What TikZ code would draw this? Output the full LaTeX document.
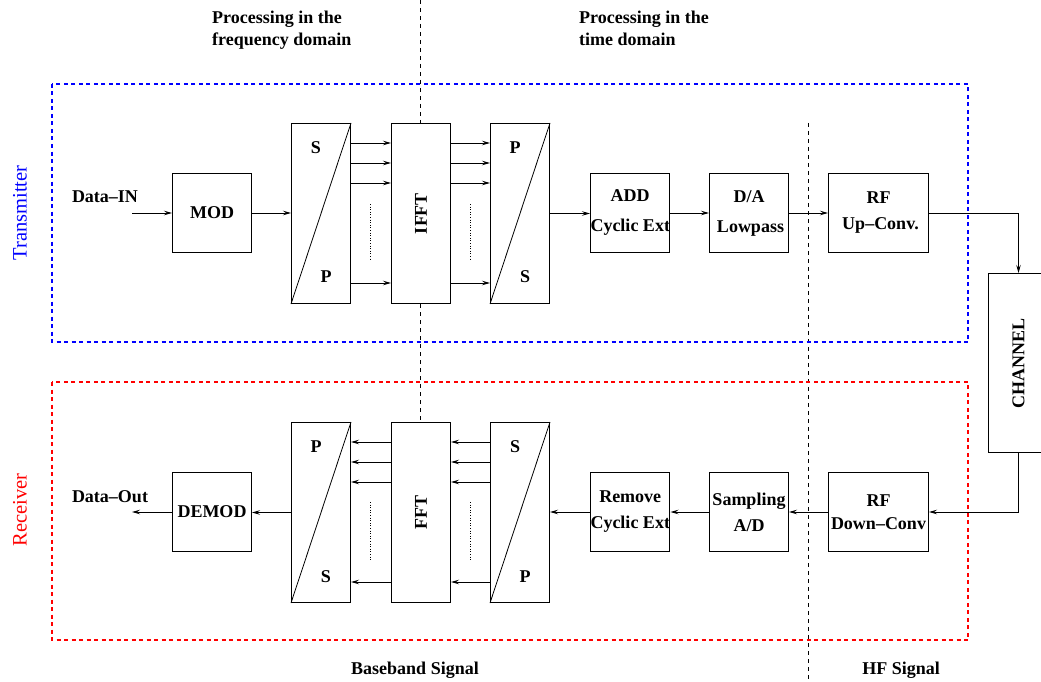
\documentclass[tikz,border=0pt]{standalone}
\usepackage{fontspec}
\setmainfont{Liberation Serif}
\usetikzlibrary{arrows.meta}
\begin{document}
\begin{tikzpicture}[x=1pt,y=-1pt,
 txt/.style={font=\fontsize{18}{22}\selectfont\bfseries, inner sep=0pt},
 blk/.style={draw, fill=white, line width=1pt, anchor=north west, inner sep=0pt,
   font=\fontsize{18}{30}\selectfont\bfseries, align=center},
 sq/.style={blk, minimum width=79pt, minimum height=79pt},
 rf/.style={blk, minimum width=100pt, minimum height=79pt},
 tall/.style={blk, minimum width=59pt, minimum height=180pt},
 arr/.style={line width=0.8pt, -{Stealth[length=8pt,width=4.5pt,inset=3pt]}},
 ln/.style={line width=0.8pt},
 sep/.style={line width=0.8pt, dash pattern=on 4pt off 4pt},
 dots/.style={line width=0.9pt, dash pattern=on 1pt off 1.6pt},
 frame/.style={line width=1.6pt, dash pattern=on 4pt off 3.5pt}]
\clip (0,0) rectangle (1041,682);
\useasboundingbox (0,0) rectangle (1041,682);

% separators
\draw[sep] (420,0) -- (420,422);
\draw[sep] (808,123) -- (808,682);

% frames
\draw[frame, blue] (52,84) rectangle (968,342);
\draw[frame, red] (52,382) rectangle (968,640);

% headings
\node[txt, anchor=north west, align=left] at (212,11) {Processing in the\\frequency domain};
\node[txt, anchor=north west, align=left] at (579,11) {Processing in the\\time domain};
\node[txt] at (415,670) {Baseband Signal};
\node[txt] at (901,670) {HF Signal};
\node[font=\fontsize{20.5}{24}\selectfont, text=blue, rotate=90, inner sep=0pt] at (20,213) {Transmitter};
\node[font=\fontsize{20.5}{24}\selectfont, text=red, rotate=90, inner sep=0pt] at (20,510) {Receiver};

% transmitter blocks
\node[sq] (mod) at (172,173) {MOD};
\node[tall] (tsp) at (291,123) {};
\node[tall] (ifft) at (391,123) {\rotatebox{90}{IFFT}};
\node[tall] (tps) at (490,123) {};
\node[sq] (add) at (590,173) {ADD\\Cyclic Ext};
\node[sq] (da) at (709,173) {D/A\\\hspace*{3pt}Lowpass};
\node[rf, font=\fontsize{18}{26}\selectfont\bfseries] (rfu) at (828,173) {RF\\\hspace*{4pt}Up--Conv.};
\node[blk, minimum width=60pt, minimum height=179pt] (chan) at (988,273) {\rotatebox{90}{CHANNEL}};

% receiver blocks
\node[sq] (demod) at (172,472) {DEMOD};
\node[tall] (rps) at (291,422) {};
\node[tall] (fft) at (391,422) {\rotatebox{90}{FFT}};
\node[tall] (rsp) at (490,422) {};
\node[sq, font=\fontsize{18}{26}\selectfont\bfseries] (rem) at (590,472) {Remove\\Cyclic Ext};
\node[sq, font=\fontsize{18}{26}\selectfont\bfseries] (samp) at (709,472) {Sampling\\A/D};
\node[rf, font=\fontsize{18}{23}\selectfont\bfseries] (rfd) at (828,472) {RF\\Down--Conv};

% diagonals
\foreach \b in {tsp,tps,rps,rsp} \draw[ln] (\b.south west) -- (\b.north east);

% letters
\node[txt] at (316,148) {S};
\node[txt] at (326,277) {P};
\node[txt] at (515,148) {P};
\node[txt] at (525,277) {S};
\node[txt] at (316,447) {P};
\node[txt] at (326,577) {S};
\node[txt] at (515,447) {S};
\node[txt] at (525,577) {P};

% parallel lines
\foreach \y in {143,163,183,283} {
  \draw[arr] (tsp.east |- 0,\y) -- (ifft.west |- 0,\y);
  \draw[arr] (ifft.east |- 0,\y) -- (tps.west |- 0,\y);
}
\foreach \y in {442,462,482,582} {
  \draw[arr] (fft.west |- 0,\y) -- (rps.east |- 0,\y);
  \draw[arr] (rsp.west |- 0,\y) -- (fft.east |- 0,\y);
}
\draw[dots] (370,204) -- (370,261);
\draw[dots] (470,204) -- (470,261);
\draw[dots] (370,502) -- (370,560);
\draw[dots] (470,502) -- (470,560);

% transmitter chain
\coordinate (din) at (132,213);
\node[txt] at (105,197) {Data--IN};
\draw[arr] (din) -- (din -| mod.west);
\draw[arr] (mod.east) -- (mod.east -| tsp.west);
\draw[arr] (tps.east) -- (tps.east -| add.west);
\draw[arr] (add.east) -- (da.west);
\draw[arr] (da.east) -- (rfu.west);
\draw[arr] (rfu.east) -| (chan.north);

% receiver chain
\draw[arr] (chan.south) |- (rfd.east);
\draw[arr] (rfd.west) -- (samp.east);
\draw[arr] (samp.west) -- (rem.east);
\draw[arr] (rem.west) -- (rem.west -| rsp.east);
\draw[arr] (rps.west) -- (rps.west -| demod.east);
\coordinate (dout) at (132,512);
\draw[arr] (demod.west) -- (dout -| demod.west) -- (dout);
\node[txt] at (110,497) {Data--Out};
\end{tikzpicture}
\end{document}
